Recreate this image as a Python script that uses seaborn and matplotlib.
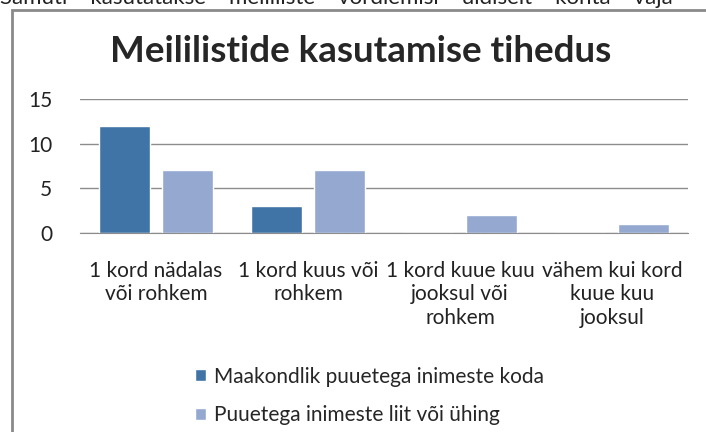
import seaborn as sns
import pandas as pd
import matplotlib.pyplot as plt
from matplotlib.patches import Rectangle

categories = ['1 kord nädalas\nvõi rohkem', '1 kord kuus või\nrohkem',
              '1 kord kuue kuu\njooksul või\nrohkem', 'vähem kui kord\nkuue kuu\njooksul']
series = ['Maakondlik puuetega inimeste koda', 'Puuetega inimeste liit või ühing']
koda = [12, 3, 0, 0]
liit = [7, 7, 2, 1]
yticks = [0, 5, 10, 15]

df = pd.DataFrame({
    'Sagedus': categories * 2,
    'Väärtus': koda + liit,
    'Rühm': [series[0]] * 4 + [series[1]] * 4,
})

sns.set_style('white')
plt.rcParams['font.family'] = ['Lato', 'DejaVu Sans']

fig = plt.figure(figsize=(7.06, 4.32), dpi=100)
ax = fig.add_axes([80 / 706, 1 - 233 / 432, 608 / 706, 134 / 432])

sns.barplot(data=df, x='Sagedus', y='Väärtus', hue='Rühm', ax=ax,
            palette=['#4174A6', '#95A9D0'], width=0.83, gap=0.2,
            saturation=1, legend=True)

ax.set_ylim(0, 15)
ax.set_yticks(yticks)
ax.yaxis.grid(True, color='#8c8c8c', linewidth=1)
ax.set_axisbelow(True)
for s in ['top', 'right', 'left']:
    ax.spines[s].set_visible(False)
ax.spines['bottom'].set_color('#8c8c8c')
ax.set_xlabel('')
ax.set_ylabel('')
ax.tick_params(axis='y', labelsize=15, colors='#222222', pad=20, length=0)
ax.tick_params(axis='x', labelsize=15, colors='#222222', pad=20, length=0)
for lbl in ax.get_xticklabels():
    lbl.set_linespacing(1.22)

handles, labels = ax.get_legend_handles_labels()
ax.get_legend().remove()
fig.legend(handles, labels, loc='upper left', bbox_to_anchor=(180 / 706, 1 - 352 / 432),
           frameon=False, fontsize=15, handlelength=0.53, handleheight=0.53,
           handletextpad=0.4, labelspacing=0.9, borderpad=0.2)

fig.suptitle('Meililistide kasutamise tihedus', x=361 / 706, y=1 - 35 / 432,
             fontsize=26.5, fontweight='bold', va='top')

# chart frame and the cut-off text line above it
fig.patches.append(Rectangle((12 / 706, -0.1), 1.2, 1.1 - 10 / 432, transform=fig.transFigure,
                             fill=False, edgecolor='#8a8a8a', linewidth=2))
fig.text(0.0, 1 - 4 / 432,
         'Samuti    kasutatakse    meililiste    võrdlemisi    üldiselt    kohta    vaja',
         fontsize=16, va='baseline', ha='left', color='#222222')

fig.savefig('out.png', dpi=100)
